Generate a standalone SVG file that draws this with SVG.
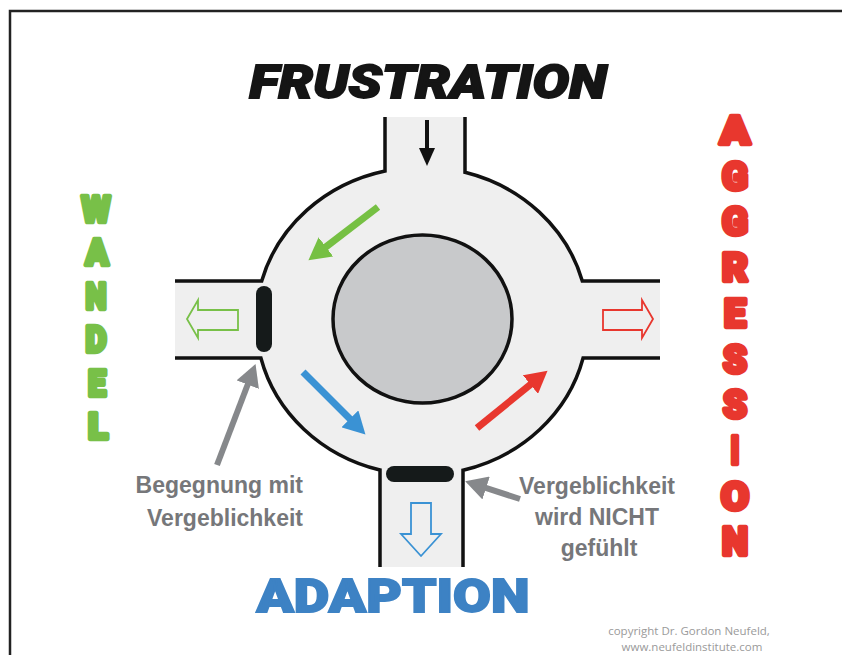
<svg xmlns="http://www.w3.org/2000/svg" width="842" height="655" viewBox="0 0 842 655">
<style>
.road{fill:#efefef;stroke:none}
.edge{fill:none;stroke:#111;stroke-width:3.5}
.heavy{font-family:Roboto,Lato,"DejaVu Sans",sans-serif;font-weight:900;text-anchor:middle}
.grn{fill:#78c048;stroke:#78c048;stroke-width:4.5;stroke-linejoin:round;font-size:37px}
.red{fill:#e8372e;stroke:#e8372e;stroke-width:4.5;stroke-linejoin:round;font-size:39px}
.note{font-family:"Liberation Sans",Arial,sans-serif;font-weight:bold;font-size:23px;fill:#76777a}
.copy{font-family:"Open Sans","Liberation Sans",sans-serif;font-size:11.5px;fill:#9a9a9a;text-anchor:middle}
</style>
<defs>
<marker id="hg" markerUnits="userSpaceOnUse" markerWidth="24" markerHeight="24" refX="2" refY="12" orient="auto"><path d="M0,0 L22,12 L0,24 z" fill="#76c043"/></marker>
<marker id="hb" markerUnits="userSpaceOnUse" markerWidth="24" markerHeight="24" refX="2" refY="12" orient="auto"><path d="M0,0 L22,12 L0,24 z" fill="#3a92d4"/></marker>
<marker id="hr" markerUnits="userSpaceOnUse" markerWidth="24" markerHeight="24" refX="2" refY="12" orient="auto"><path d="M0,0 L22,12 L0,24 z" fill="#e8372e"/></marker>
<marker id="hk" markerUnits="userSpaceOnUse" markerWidth="24" markerHeight="24" refX="2" refY="12" orient="auto"><path d="M0,0 L22,12 L0,24 z" fill="#86888b"/></marker>
</defs>
<rect width="842" height="655" fill="#fff"/>
<rect x="10" y="11" width="900" height="700" fill="none" stroke="#222" stroke-width="2.5"/>

<g id="roundabout">
<ellipse class="road" cx="422" cy="321" rx="166" ry="154"/>
<rect class="road" x="385" y="117" width="80" height="70"/>
<rect class="road" x="175" y="281" width="100" height="77"/>
<rect class="road" x="570" y="281" width="90" height="77"/>
<rect class="road" x="380" y="450" width="83" height="117"/>
<path class="edge" d="M385,117 V171 A166,154 0 0 0 261.7,281 H175 M175,358 H260.9 A166,154 0 0 0 380,470 V567 M463,567 V470.2 A166,154 0 0 0 583.1,358 H660 M660,281 H582.3 A166,154 0 0 0 465,172.3 V117"/>
<ellipse cx="422.5" cy="319" rx="89.5" ry="84" fill="#c8c9cb" stroke="#111" stroke-width="3.5"/>
</g>

<g id="bars">
<rect x="256" y="286" width="16" height="66" rx="8" fill="#151a1a"/>
<rect x="386" y="466" width="68" height="16" rx="8" fill="#151a1a"/>
</g>

<g id="connectors">
<line x1="427" y1="120" x2="427" y2="150" stroke="#111" stroke-width="4"/>
<polygon points="419,148 435,148 427,166" fill="#111"/>
<line x1="378" y1="207" x2="324.3" y2="248.1" stroke="#76c043" stroke-width="7" marker-end="url(#hg)"/>
<line x1="303" y1="372" x2="351.3" y2="420.3" stroke="#3a92d4" stroke-width="7" marker-end="url(#hb)"/>
<line x1="477" y1="428" x2="532" y2="383.3" stroke="#e8372e" stroke-width="7" marker-end="url(#hr)"/>
<line x1="217" y1="465" x2="248.4" y2="382.8" stroke="#86888b" stroke-width="6" marker-end="url(#hk)"/>
<line x1="520" y1="499" x2="484.2" y2="487.4" stroke="#86888b" stroke-width="6" marker-end="url(#hk)"/>
<path d="M187,319 L198,300 V310 H238 V330 H198 V338 Z" fill="none" stroke="#78c048" stroke-width="1.8"/>
<path d="M653,319 L642,300 V310 H603 V330 H642 V338 Z" fill="none" stroke="#e8372e" stroke-width="1.8"/>
<path d="M421,556 L401,534 H411 V503 H431 V534 H441 Z" fill="none" stroke="#3a92d4" stroke-width="1.8"/>
</g>

<g id="frustration">
<text x="428" y="98" class="heavy" font-size="46" font-style="italic" fill="#151515" stroke="#151515" stroke-width="1.8" textLength="357" lengthAdjust="spacingAndGlyphs">FRUSTRATION</text>
</g>

<g id="adaption">
<text x="393" y="612" class="heavy" font-size="47" fill="#3d82c4" stroke="#3d82c4" stroke-width="1.8" textLength="273" lengthAdjust="spacingAndGlyphs">ADAPTION</text>
</g>

<g id="wandel" class="heavy grn">
<text x="96" y="221.7" textLength="29" lengthAdjust="spacingAndGlyphs">W</text>
<text x="97" y="265.2" textLength="23" lengthAdjust="spacingAndGlyphs">A</text>
<text x="96" y="308.7" textLength="21" lengthAdjust="spacingAndGlyphs">N</text>
<text x="96" y="352.2" textLength="21" lengthAdjust="spacingAndGlyphs">D</text>
<text x="97" y="395.7" textLength="18" lengthAdjust="spacingAndGlyphs">E</text>
<text x="98" y="439.2" textLength="20" lengthAdjust="spacingAndGlyphs">L</text>
</g>

<g id="aggression" class="heavy red">
<text x="735" y="144" textLength="30" lengthAdjust="spacingAndGlyphs">A</text>
<text x="735" y="189.7" textLength="26" lengthAdjust="spacingAndGlyphs">G</text>
<text x="735" y="235.4" textLength="26" lengthAdjust="spacingAndGlyphs">G</text>
<text x="735" y="281.1" textLength="26" lengthAdjust="spacingAndGlyphs">R</text>
<text x="735" y="326.8" textLength="22" lengthAdjust="spacingAndGlyphs">E</text>
<text x="735" y="372.5" textLength="24" lengthAdjust="spacingAndGlyphs">S</text>
<text x="735" y="418.2" textLength="24" lengthAdjust="spacingAndGlyphs">S</text>
<text x="735" y="463.9" textLength="9" lengthAdjust="spacingAndGlyphs">I</text>
<text x="735" y="509.6" textLength="28" lengthAdjust="spacingAndGlyphs">O</text>
<text x="735" y="555.3" textLength="26" lengthAdjust="spacingAndGlyphs">N</text>
</g>

<g id="label-begegnung" class="note" text-anchor="end">
<text x="303" y="493">Begegnung mit</text>
<text x="303" y="526">Vergeblichkeit</text>
</g>

<g id="label-nicht" class="note" text-anchor="middle">
<text x="597" y="494">Vergeblichkeit</text>
<text x="597" y="525">wird NICHT</text>
<text x="599" y="556">gefühlt</text>
</g>

<g id="copyright">
<text x="689" y="635" class="copy">copyright Dr. Gordon Neufeld,</text>
<text x="692" y="651" class="copy">www.neufeldinstitute.com</text>
</g>
</svg>
